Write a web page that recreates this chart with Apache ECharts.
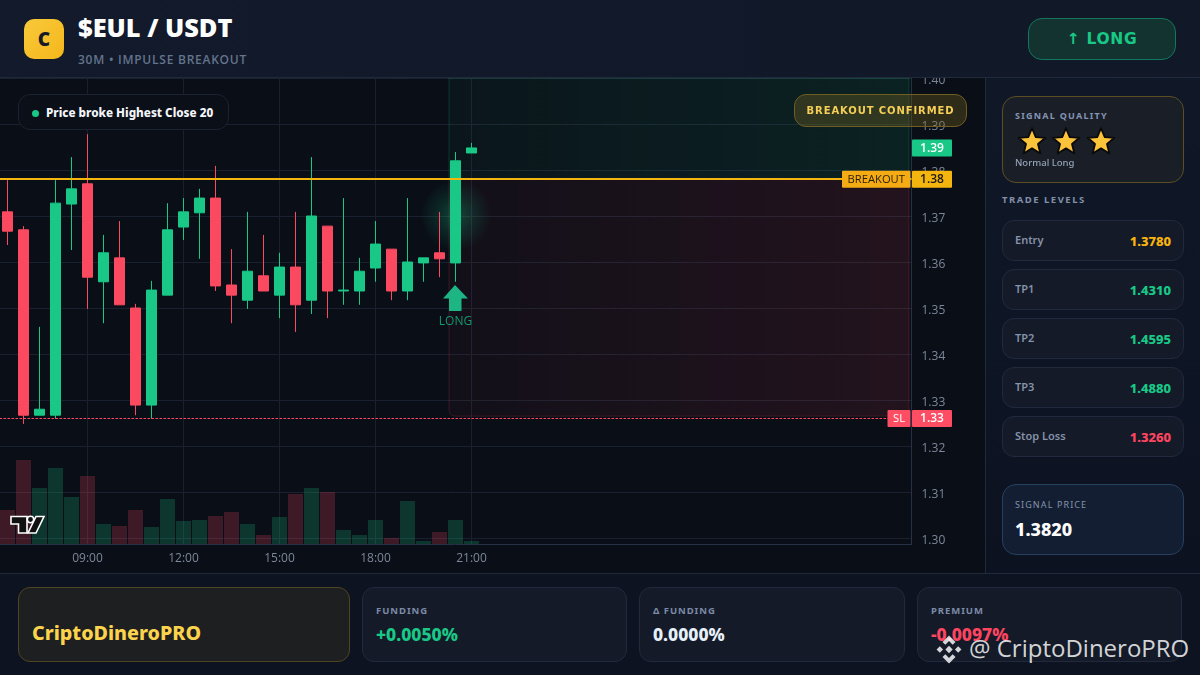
<!DOCTYPE html>
<html><head><meta charset="utf-8">
<script src="https://cdn.jsdelivr.net/npm/echarts@6/dist/echarts.min.js"></script>
<style>
*{box-sizing:border-box;margin:0;padding:0}
html,body{width:1200px;height:675px;overflow:hidden;background:#0d1320;font-family:"Open Sans",sans-serif}
.a{position:absolute;white-space:nowrap}
#header{left:0;top:0;width:1200px;height:78px;background:linear-gradient(90deg,#121a2b,#111828);border-bottom:1px solid #1f2a3d}
#chart{position:absolute;left:0;top:78px;width:985px;height:495px;background:#0a0e17}
#side{left:985px;top:78px;width:215px;height:495px;background:linear-gradient(180deg,#101828,#0c1220);border-left:1px solid #1f2a3d}
#footer{left:0;top:573px;width:1200px;height:102px;background:#0d1320;border-top:1px solid #1f2a3d}
</style></head><body>
<div class="a" id="header"></div>
<div id="chart"></div>
<div class="a" id="side"></div>
<div class="a" id="footer"></div>
<div id="ui"></div>
<script>
// ---------- chart data ----------
const times=['06:30','07:00','07:30','08:00','08:30','09:00','09:30','10:00','10:30','11:00','11:30','12:00','12:30','13:00','13:30','14:00','14:30','15:00','15:30','16:00','16:30','17:00','17:30','18:00','18:30','19:00','19:30','20:00','20:30','21:00'];
const futureSlots=['','','','','','','','','','','','','','','','','','','','','','','','','','',''];
const shownTimes=['09:00','12:00','15:00','18:00','21:00'];
const opens =[1.3709,1.3670,1.3267,1.3267,1.3726,1.3770,1.3557,1.3609,1.3500,1.3289,1.3528,1.3676,1.3707,1.3739,1.3550,1.3517,1.3570,1.3528,1.3589,1.3517,1.3678,1.3537,1.3537,1.3587,1.3628,1.3537,1.3598,1.3620,1.3598,1.3837];
const closes=[1.3667,1.3267,1.3280,1.3728,1.3759,1.3567,1.3620,1.3507,1.3289,1.3539,1.3670,1.3709,1.3739,1.3548,1.3528,1.3580,1.3537,1.3589,1.3507,1.3700,1.3537,1.3539,1.3580,1.3639,1.3537,1.3600,1.3609,1.3607,1.3820,1.3848];
const lows  =[1.3637,1.3248,1.3267,1.3259,1.3626,1.3498,1.3467,1.3507,1.3267,1.3259,1.3528,1.3648,1.3607,1.3537,1.3467,1.3498,1.3537,1.3478,1.3448,1.3487,1.3478,1.3507,1.3507,1.3557,1.3517,1.3517,1.3557,1.3567,1.3557,1.3837];
const highs =[1.3778,1.3678,1.3459,1.3778,1.3828,1.3878,1.3659,1.3689,1.3509,1.3559,1.3728,1.3739,1.3759,1.3809,1.3628,1.3709,1.3659,1.3620,1.3709,1.3828,1.3678,1.3739,1.3609,1.3689,1.3628,1.3739,1.3609,1.3709,1.3839,1.3859];
const volumes=[34,84,56,76,47,68,20,18,34,17,45,23,24,28,32,20,9,27,50,56,52,14,9,24,6,43,3,12,24,3];
const priceTicks=[1.30,1.31,1.32,1.33,1.34,1.35,1.36,1.37,1.38,1.39,1.40];
const entryPrice=1.378, stopPrice=1.326, lastPrice=1.3848, signalIndex=28;
const priceTags=[[lastPrice,'1.39','#19c886','#ffffff'],[entryPrice,'1.38','#f5b50f','#1a1a1a'],[stopPrice,'1.33','#ff4d63','#ffffff']];
const lineTags=[[entryPrice,'BREAKOUT','#f5ab14','#2a1e05',68.5],[stopPrice,'SL','#ff4d63','#ffffff',23]];
const glowPoint=[1.3702];
const arrowPrice=1.3522;
const zones=[[1.40,entryPrice,'g'],[entryPrice,1.3265,'r']];
// ---------- panel text ----------
const tradeLevels=[['Entry','1.3780','#f9b40e'],['TP1','1.4310','#19c886'],['TP2','1.4595','#19c886'],['TP3','1.4880','#19c886'],['Stop Loss','1.3260','#ff4560']];
const footerStats=[['FUNDING','+0.0050%','#19c886',362,265],['Δ FUNDING','0.0000%','#e6f0fa',639,266],['PREMIUM','-0.0097%','#ff4560',917,265]];

const GREEN='#19c886', RED='#fb4a60';
const categories=times.concat(futureSlots);
const isUp=i=>closes[i]>=opens[i];
const chart=echarts.init(document.getElementById('chart'),null,{renderer:'canvas'});
const tickShown=(i,v)=>shownTimes.includes(v);
chart.setOption({
 animation:false,
 grid:{left:-0.5,top:0,width:912,height:466,containLabel:false,outerBoundsMode:'none'},
 xAxis:{type:'category',data:categories,boundaryGap:true,
   axisLine:{lineStyle:{color:'#263047'}},axisTick:{show:false,alignWithLabel:true,interval:tickShown},
   axisLabel:{interval:tickShown,color:'#7d8799',fontSize:12,fontFamily:'Open Sans',margin:9},
   splitLine:{show:true,alignWithLabel:true,interval:tickShown,lineStyle:{color:'#1a202d'}}},
 yAxis:[{type:'value',position:'right',min:1.2987,max:1.40,
   axisLine:{show:true,lineStyle:{color:'#263047'}},axisTick:{show:false,customValues:priceTicks},
   axisLabel:{customValues:priceTicks,formatter:v=>'{t|'+v.toFixed(2)+'}',rich:{t:{color:'#7d8799',fontSize:12,fontFamily:'Open Sans',padding:[5,0,0,0]}},margin:10,showMinLabel:true,showMaxLabel:true},
   splitLine:{show:true,lineStyle:{color:'#1a202d'}}},
  {type:'value',min:0,max:466,show:false,splitLine:{show:false}}],
 series:[
  {type:'custom',name:'zones',z:1,silent:true,data:zones,encode:{y:[0,1]},
   renderItem(p,api){
    const cs=p.coordSys,z=zones[p.dataIndex];
    const x0=api.coord([signalIndex,z[0]])[0]-6.5,x1=cs.x+cs.width-2.5;
    const y0=api.coord([signalIndex,z[0]])[1],y1=api.coord([signalIndex,z[1]])[1];
    const g=z[2]==='g';
    return {type:'rect',shape:{x:x0,y:y0,width:x1-x0,height:y1-y0,r:g?[0,0,0,0]:[0,0,0,6]},
     style:{fill:new echarts.graphic.LinearGradient(0,0,1,0,g?[{offset:0,color:'rgba(25,200,134,0.045)'},{offset:1,color:'rgba(25,200,134,0.11)'}]:[{offset:0,color:'rgba(255,70,90,0.035)'},{offset:1,color:'rgba(255,70,90,0.10)'}]),
     stroke:g?'rgba(25,200,134,0.2)':'rgba(255,70,90,0.18)',lineWidth:1}};
   }},
  {type:'bar',name:'volume',yAxisIndex:1,z:2,barWidth:15,silent:true,
   data:volumes.map((v,i)=>({value:v,itemStyle:{color:isUp(i)?'rgba(25,200,134,0.22)':'rgba(251,74,96,0.22)'}}))},
  {type:'custom',name:'glow',z:3,silent:true,data:glowPoint,encode:{y:0},
   renderItem(p,api){
    const c=api.coord([signalIndex,glowPoint[0]]);
    return {type:'circle',shape:{cx:c[0],cy:c[1],r:36},
     style:{fill:new echarts.graphic.RadialGradient(0.5,0.5,0.5,[{offset:0,color:'rgba(25,200,134,0.30)'},{offset:0.55,color:'rgba(25,200,134,0.12)'},{offset:1,color:'rgba(25,200,134,0)'}])}};
   }},
  {type:'candlestick',name:'$EUL',z:4,barWidth:10,silent:true,
   data:opens.map((o,i)=>[o,closes[i],lows[i],highs[i]]),
   itemStyle:{color:GREEN,color0:RED,borderColor:GREEN,borderColor0:RED,borderWidth:1},
   markLine:{silent:true,symbol:'none',z:6,animation:false,precision:4,label:{show:false},
     data:[{yAxis:entryPrice,lineStyle:{color:'#f5b50f',width:2,type:'solid'}},
           {yAxis:stopPrice,lineStyle:{color:'#ff4560',width:1,type:[2.5,1.5]}}]},
   markPoint:{silent:true,z:6,animation:false,
     data:[{coord:[signalIndex,arrowPrice],symbol:'path://M12 0 L25 13.5 L18.5 13.5 L18.5 26 L6 26 L6 13.5 L0 13.5 Z',symbolSize:[25,26],symbolKeepAspect:false,
       itemStyle:{color:'#1cb583'},
       label:{show:true,position:'bottom',distance:5,formatter:'LONG',color:'#139a6e',fontSize:12,fontFamily:'Open Sans'}}]}},
  {type:'custom',name:'priceTags',z:10,silent:true,clip:false,data:priceTags.map(t=>t[0]),encode:{y:0},
   renderItem(p,api){
    const t=priceTags[p.dataIndex],cs=p.coordSys,y=api.coord([0,t[0]])[1];
    return {type:'group',children:[
      {type:'rect',shape:{x:cs.x+cs.width+0.5,y:y-8.5,width:40,height:17,r:1},style:{fill:t[2]}},
      {type:'text',style:{x:cs.x+cs.width+20.5,y:y+0.5,text:t[1],fill:t[3],font:'600 12px "Open Sans"',textAlign:'center',textVerticalAlign:'middle'}}]};
   }},
  {type:'custom',name:'lineTags',z:10,silent:true,clip:false,data:lineTags.map(t=>t[0]),encode:{y:0},
   renderItem(p,api){
    const t=lineTags[p.dataIndex],cs=p.coordSys,y=api.coord([0,t[0]])[1],x=cs.x+cs.width-t[4]-1;
    return {type:'group',children:[
      {type:'rect',shape:{x:x,y:y-8.5,width:t[4],height:17,r:1},style:{fill:t[2]}},
      {type:'text',style:{x:x+t[4]/2,y:y+0.5,text:t[1],fill:t[3],font:'11.2px "Open Sans"',textAlign:'center',textVerticalAlign:'middle'}}]};
   }}
 ],
 graphic:[
  {type:'polygon',z:20,silent:true,shape:{points:[[11,438.5],[27,438.5],[27,455],[18.5,455],[18.5,446],[11,446]]},style:{fill:'#111',stroke:'#fff',lineWidth:1.6}},
  {type:'circle',z:20,silent:true,shape:{cx:30.5,cy:441.5,r:3.2},style:{fill:'#111',stroke:'#fff',lineWidth:1.6}},
  {type:'polygon',z:20,silent:true,shape:{points:[[36,438.5],[44,438.5],[36,455],[28,455]]},style:{fill:'#111',stroke:'#fff',lineWidth:1.6}}
 ]
});

// ---------- DOM panels ----------
const ui=document.getElementById('ui');
const el=(css,html)=>{const d=document.createElement('div');d.className='a';d.style.cssText=css;d.innerHTML=html||'';ui.appendChild(d);return d;};
const star=`<svg width="30" height="30" viewBox="0 0 28 28"><polygon points="14,2 17.5,10.3 26.5,11 19.6,16.8 21.8,25.6 14,20.9 6.2,25.6 8.4,16.8 1.5,11 10.5,10.3" fill="#fcc43a" stroke="#0b0b0b" stroke-width="1.7" stroke-linejoin="round"/></svg>`;
el('left:24px;top:19px;width:40px;height:40px;border-radius:10px;background:linear-gradient(135deg,#f8c93a,#f5b71c);color:#141a28;font:800 19px/40px "Open Sans";text-align:center','C');
el('left:78px;top:11px;font:800 25.4px/32px "Open Sans";color:#fff','$EUL / USDT');
el('left:78px;top:51px;font:600 12px/17px "Open Sans";letter-spacing:.75px;color:#64748b','30M • IMPULSE BREAKOUT');
el('left:1028px;top:18px;width:148px;height:42px;border-radius:14px;border:1.5px solid #14775c;background:#12332f;color:#19c886;font:700 15.5px/40px "DejaVu Sans";letter-spacing:.7px;text-align:center','↑ LONG');
el('left:18px;top:94px;width:211px;height:36px;border-radius:12px;border:1px solid #1c2230;background:#0b0f18');
el('left:32px;top:110px;width:7px;height:7px;border-radius:50%;background:#19c886');
el('left:46px;top:104px;font:800 11.7px/17px "Noto Sans";color:#f4f6fa','Price broke Highest Close 20');
el('left:794px;top:94px;width:173px;height:33px;border-radius:12px;border:1px solid #6f5e22;background:rgba(120,100,30,.34);color:#f5cf57;font:700 10px/32px "DejaVu Sans";letter-spacing:.9px;text-align:center','BREAKOUT CONFIRMED');
el('left:1002px;top:96px;width:182px;height:87px;border-radius:14px;border:1px solid #5b4e24;background:#1a1e26');
el('left:1015px;top:109px;font:700 9px/14px "Noto Sans";letter-spacing:1.25px;color:#8494b4','SIGNAL QUALITY');
el('left:1017px;top:126px',star);
el('left:1051px;top:126px',star);
el('left:1086px;top:126px',star);
el('left:1015px;top:156px;font:500 9.5px/14px "Noto Sans";color:#94a3b8','Normal Long');
el('left:1002px;top:193px;font:700 9.5px/14px "Noto Sans";letter-spacing:1.5px;color:#8290a8','TRADE LEVELS');
tradeLevels.forEach((r,i)=>{
 const top=220+i*49;
 el(`left:1002px;top:${top}px;width:182px;height:41px;border-radius:12px;border:1px solid #212a3d;background:#141a28`);
 el(`left:1015px;top:${top+12}px;font:600 11px/16px "Noto Sans";color:#8592a8`,r[0]);
 el(`right:29px;top:${top+12}px;font:800 13px/18px "Noto Sans";color:${r[2]}`,r[1]);
});
el('left:1002px;top:484px;width:182px;height:71px;border-radius:14px;border:1px solid #26405f;background:#141e32');
el('left:1015px;top:498px;font:400 9px/14px "Noto Sans";letter-spacing:1.1px;color:#8494ac','SIGNAL PRICE');
el('left:1015px;top:517px;font:800 18px/24px "Noto Sans";color:#fff','1.3820');
el('left:18px;top:587px;width:332px;height:75px;border-radius:12px;border:1px solid #4f4520;background:#1e1f20');
el('left:32px;top:619px;font:800 19.7px/28px "Noto Sans";color:#fcd34d','CriptoDineroPRO');
footerStats.forEach(s=>{
 el(`left:${s[3]}px;top:587px;width:${s[4]}px;height:75px;border-radius:12px;border:1px solid #212a3d;background:#141a28`);
 el(`left:${s[3]+14}px;top:604px;font:700 9.5px/14px "Noto Sans";letter-spacing:.95px;color:#7b8aa5`,s[0]);
 el(`left:${s[3]+14}px;top:622px;font:800 17.5px/24px "Noto Sans";color:${s[2]}`,s[1]);
});
el('left:936px;top:635px;width:26px;height:29px',`<svg width="26" height="29" viewBox="0 0 24 26" fill="rgba(255,255,255,.82)"><polygon points="12,0 18,6 15.4,8.6 12,5.2 8.6,8.6 6,6"/><polygon points="12,26 18,20 15.4,17.4 12,20.8 8.6,17.4 6,20"/><polygon points="3.5,10 6.5,13 3.5,16 .5,13"/><polygon points="20.5,10 23.5,13 20.5,16 17.5,13"/><polygon points="12,9.6 15.4,13 12,16.4 8.6,13"/></svg>`);
el('left:969px;top:632px;font:400 24px/32px "Open Sans";color:rgba(255,255,255,.82)','@ CriptoDineroPRO');
</script>
</body></html>
